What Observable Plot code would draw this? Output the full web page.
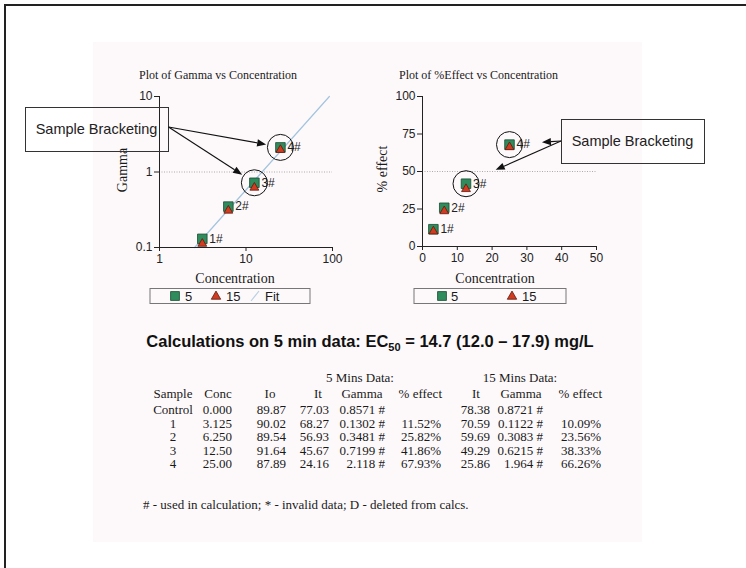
<!DOCTYPE html>
<html><head><meta charset="utf-8">
<script src="https://cdn.jsdelivr.net/npm/d3@7"></script>
<script src="https://cdn.jsdelivr.net/npm/@observablehq/plot@0.6"></script>
<style>
html,body{margin:0;padding:0;background:#fff;}
#root{position:relative;width:746px;height:568px;overflow:hidden;background:#fff;}
.abs{position:absolute;}
</style></head><body><div id="root"></div>
<script>
const samples  = ["Control","1","2","3","4"];
const conc     = [0, 3.125, 6.25, 12.5, 25];
const io       = [89.87, 90.02, 89.54, 91.64, 87.89];
const it5      = [77.03, 68.27, 56.93, 45.67, 24.16];
const gamma5   = [0.8571, 0.1302, 0.3481, 0.7199, 2.118];
const effect5  = [null, 11.52, 25.82, 41.86, 67.93];
const it15     = [78.38, 70.59, 59.69, 49.29, 25.86];
const gamma15  = [0.8721, 0.1122, 0.3083, 0.6215, 1.964];
const effect15 = [null, 10.09, 23.56, 38.33, 66.26];
const bracketed = ["3","4"];
const fitConc  = [2.55, 92];
const fitGamma = [0.1, 10];
const gammaTicks   = [0.1, 1, 10];
const concLogTicks = [1, 10, 100];
const effectTicks  = [0, 25, 50, 75, 100];
const concLinTicks = [0, 10, 20, 30, 40, 50];

const pts = samples.map((s,i)=>({sample:s, conc:conc[i], g5:gamma5[i], g15:gamma15[i], e5:effect5[i], e15:effect15[i]})).filter(d=>d.conc>0);
const brack = pts.filter(d=>bracketed.includes(d.sample));
const fit = fitConc.map((c,i)=>({c, g:fitGamma[i]}));

const SQ_FILL="#2f8c5c", SQ_STROKE="#1b4a31", TR_FILL="#d23b1f", TR_STROKE="#5a1a10";
const SANS="Arial, 'Liberation Sans', sans-serif";
const SERIF="'Liberation Serif','Times New Roman', serif";

const root = d3.select("#root");
function box(l,t,w,h,bg){return root.append("div").attr("class","abs").style("left",l+"px").style("top",t+"px").style("width",w+"px").style("height",h+"px").style("background",bg);}
box(93,42,549,500,"#fdf9fa");
box(4,4,742,2,"#222");
box(4,4,2,564,"#222");

const chartStyle = {background:"transparent", fontFamily:SANS, fontSize:"12px", color:"#222", overflow:"visible"};
function pointMarks(yA, yB){
  return [
    Plot.dot(pts, {x:"conc", y:yA, symbol:"square", r:5.4, fill:SQ_FILL, stroke:SQ_STROKE, strokeWidth:0.8}),
    Plot.dot(pts, {x:"conc", y:yB, symbol:"triangle", r:3.3, fill:TR_FILL, stroke:TR_STROKE, strokeWidth:0.8}),
    Plot.text(pts, {x:"conc", y:yA, text:d=>d.sample+"#", dx:7, textAnchor:"start", fontSize:12, fill:"#222"}),
    Plot.dot(brack, {x:"conc", y:yA, r:13, stroke:"#111", strokeWidth:1, fill:"none"})
  ];
}

const L = {left:100, top:85};
const left = Plot.plot({
  width:250, height:210, marginLeft:59, marginRight:18, marginTop:11, marginBottom:48,
  style:chartStyle,
  x:{type:"log", domain:[1,100]},
  y:{type:"log", domain:[0.1,10]},
  marks:[
    Plot.ruleY([1], {stroke:"#aaa", strokeDasharray:"1,1.5"}),
    Plot.line(fit, {x:"c", y:"g", stroke:"#a3c4df", strokeWidth:1.2}),
    Plot.axisY({ticks:gammaTicks, tickFormat:d=>String(d), tickSize:5, tickPadding:2, label:null}),
    Plot.axisX({ticks:concLogTicks, tickFormat:d=>String(d), tickSize:4, tickPadding:3, label:null}),
    Plot.ruleX([1], {stroke:"#222"}),
    Plot.ruleY([0.1], {stroke:"#222"}),
    ...pointMarks("g5","g15")
  ]
});

const R = {left:360, top:85};
const right = Plot.plot({
  width:250, height:210, marginLeft:62, marginRight:14, marginTop:11, marginBottom:49,
  style:chartStyle,
  x:{domain:[0,50]},
  y:{domain:[0,100]},
  marks:[
    Plot.ruleY([50], {stroke:"#aaa", strokeDasharray:"1,1.5"}),
    Plot.axisY({ticks:effectTicks, tickSize:5, tickPadding:2, label:null}),
    Plot.axisX({ticks:concLinTicks, tickSize:4, tickPadding:3, label:null}),
    Plot.ruleX([0], {stroke:"#222"}),
    Plot.ruleY([0], {stroke:"#222"}),
    ...pointMarks("e5","e15")
  ]
});

function place(node, pos){
  const d = root.append("div").attr("class","abs").style("left",pos.left+"px").style("top",pos.top+"px").style("width","250px").style("height","210px");
  d.node().appendChild(node);
}
place(left, L); place(right, R);

// ---- overlay: texts, legends, callouts ----
const svg = root.append("svg").attr("class","abs").attr("width",746).attr("height",568).style("left","0px").style("top","0px").style("pointer-events","none");
function txt(x,y,s,opt={}){
  const t = svg.append("text").attr("x",x).attr("y",y).text(s)
    .attr("font-family",opt.family||SERIF).attr("font-size",opt.size||13)
    .attr("text-anchor",opt.anchor||"start").attr("fill",opt.fill||"#1a1a1a");
  if(opt.weight) t.attr("font-weight",opt.weight);
  if(opt.rotate) t.attr("transform",`rotate(-90 ${x} ${y})`);
  return t;
}
// chart titles & axis labels
txt(139,79,"Plot of Gamma vs Concentration",{size:12});
txt(399,79,"Plot of %Effect vs Concentration",{size:12});
txt(127,170,"Gamma",{size:14,anchor:"middle",rotate:true});
txt(387,169,"% effect",{size:14,anchor:"middle",rotate:true});
txt(235,283,"Concentration",{size:14,anchor:"middle"});
txt(495,283,"Concentration",{size:14,anchor:"middle"});

// legends
function legendBox(x,w){ svg.append("rect").attr("x",x).attr("y",288.5).attr("width",w).attr("height",15).attr("fill","none").attr("stroke","#777").attr("stroke-width",1); }
function sym(type,x,y,fill,stroke,r){
  const size = r*r*Math.PI;
  svg.append("path").attr("d",d3.symbol(type,size)()).attr("transform",`translate(${x},${y})`).attr("fill",fill).attr("stroke",stroke).attr("stroke-width",0.8);
}
legendBox(150,160);
sym(d3.symbolSquare,175,296,SQ_FILL,SQ_STROKE,5);
txt(185,301,"5",{family:SANS,size:13});
sym(d3.symbolTriangle,216,296.5,TR_FILL,TR_STROKE,3.5);
txt(226,301,"15",{family:SANS,size:13});
svg.append("line").attr("x1",251).attr("y1",301).attr("x2",259).attr("y2",291).attr("stroke","#b9cfe2").attr("stroke-width",1.2);
txt(265,301,"Fit",{family:SANS,size:13});
legendBox(414,152);
sym(d3.symbolSquare,442,296,SQ_FILL,SQ_STROKE,5);
txt(451,301,"5",{family:SANS,size:13});
sym(d3.symbolTriangle,512,296.5,TR_FILL,TR_STROKE,3.5);
txt(522,301,"15",{family:SANS,size:13});

// callouts
function callout(x,y,w,h){
  svg.append("rect").attr("x",x+0.5).attr("y",y+0.5).attr("width",w).attr("height",h).attr("fill","none").attr("stroke","#333").attr("stroke-width",1);
  txt(x+w/2,y+h/2+5,"Sample Bracketing",{family:SANS,size:14.5,anchor:"middle",fill:"#222"});
}
function arrow(x1,y1,cx,cy,gap){
  const dx=cx-x1, dy=cy-y1, len=Math.hypot(dx,dy), ux=dx/len, uy=dy/len;
  const tx=x1+ux*(len-gap), ty=y1+uy*(len-gap);
  const hl=9, hw=3.6;
  const bx=tx-ux*hl, by=ty-uy*hl;
  svg.append("line").attr("x1",x1).attr("y1",y1).attr("x2",bx).attr("y2",by).attr("stroke","#111").attr("stroke-width",1.1);
  svg.append("path").attr("d",`M${tx},${ty}L${bx-uy*hw},${by+ux*hw}L${bx+uy*hw},${by-ux*hw}Z`).attr("fill","#111");
}
callout(25,107,143,44);
callout(561,119,143,44);
const lx=left.scale("x"), ly=left.scale("y"), rx=right.scale("x"), ry=right.scale("y");
brack.forEach(d=>{
  arrow(168.5,127, lx.apply(d.conc)+L.left, ly.apply(d.g5)+L.top, 14);
  arrow(561,141, rx.apply(d.conc)+R.left, ry.apply(d.e5)+R.top, 33);
});

// heading
const hd = txt(370,347,"Calculations on 5 min data: EC",{family:SANS,size:16.5,weight:"bold",anchor:"middle",fill:"#111"});
hd.append("tspan").attr("font-size",11).attr("dy",4).text("50");
hd.append("tspan").attr("dy",-4).text(" = 14.7 (12.0 \u2013 17.9) mg/L");

// table
const TS=13;
txt(360,382,"5 Mins Data:",{size:TS,anchor:"middle"});
txt(520,382,"15 Mins Data:",{size:TS,anchor:"middle"});
const headers = [["Sample",173,"middle"],["Conc",218,"middle"],["Io",270,"middle"],["It",318,"middle"],["Gamma",362,"middle"],["% effect",442,"end"],["It",476,"middle"],["Gamma",521,"middle"],["% effect",602,"end"]];
headers.forEach(([s,x,a])=>txt(x,398,s,{size:TS,anchor:a}));
const fmtP = v=> v==null ? "" : v.toFixed(2)+"%";
samples.forEach((s,i)=>{
  const y = 414 + i*13.6;
  txt(173,y,s,{size:TS,anchor:"middle"});
  txt(232,y,conc[i].toPrecision(4),{size:TS,anchor:"end"});
  txt(286,y,io[i].toFixed(2),{size:TS,anchor:"end"});
  txt(329,y,it5[i].toFixed(2),{size:TS,anchor:"end"});
  txt(385,y,gamma5[i].toPrecision(4)+" #",{size:TS,anchor:"end"});
  txt(441,y,fmtP(effect5[i]),{size:TS,anchor:"end"});
  txt(490,y,it15[i].toFixed(2),{size:TS,anchor:"end"});
  txt(543,y,gamma15[i].toPrecision(4)+" #",{size:TS,anchor:"end"});
  txt(601,y,fmtP(effect15[i]),{size:TS,anchor:"end"});
});
txt(143,509,"# - used in calculation; * - invalid data; D - deleted from calcs.",{size:13});
</script>
</body></html>
